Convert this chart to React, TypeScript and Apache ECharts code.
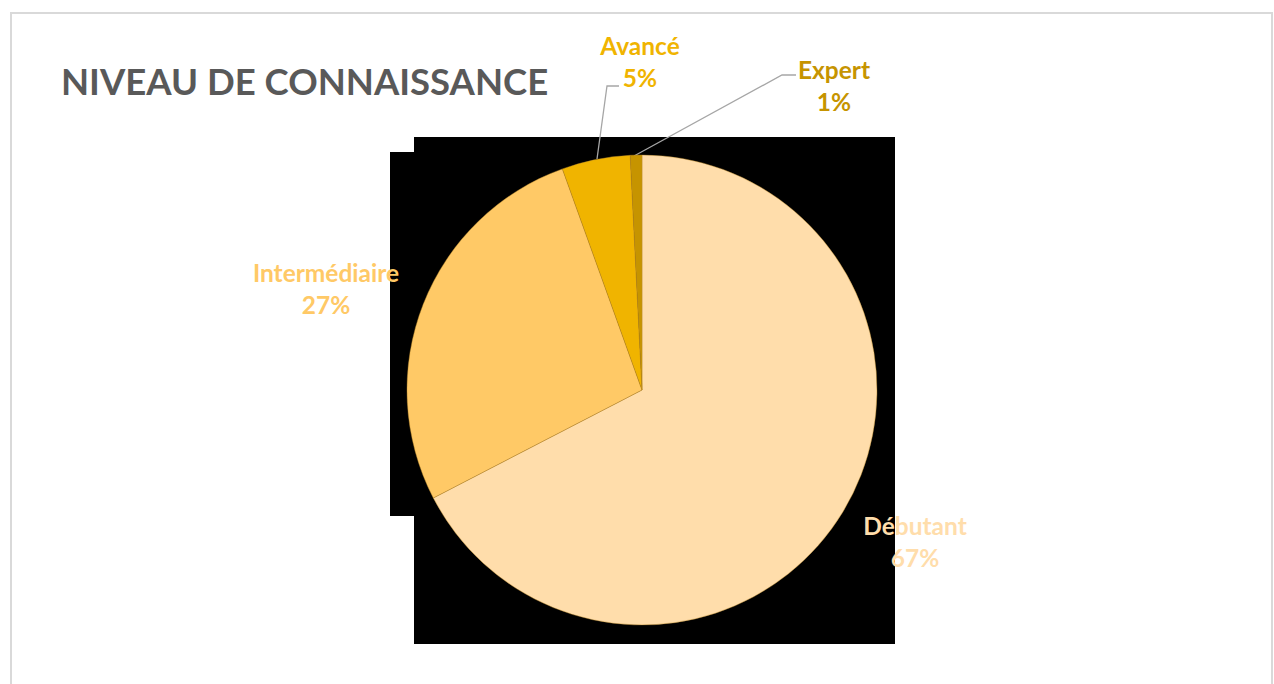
import React, { useEffect, useRef } from "react";
import * as echarts from "echarts";

const TITLE = "NIVEAU DE CONNAISSANCE";
const categories = ["Débutant", "Intermédiaire", "Avancé", "Expert"];
const values = [67.4, 27.1, 4.7, 0.8];
const colors = ["#FFDDAB", "#FFC966", "#F0B400", "#C69400"];
const showLine = [false, false, true, true];

// label layout (centre of the two-line label) and optional leader-line points
const labelPos: { x: number; y: number; line?: number[][] }[] = [
  { x: 915, y: 541 },
  { x: 326, y: 288 },
  { x: 640, y: 61, line: [[597, 159], [607, 86], [619, 86]] },
  { x: 834, y: 85, line: [[634, 156], [782, 75], [796, 75]] },
];

export default function App() {
  const ref = useRef<HTMLDivElement>(null);
  useEffect(() => {
    if (!ref.current) return;
    const chart = echarts.init(ref.current, undefined, { renderer: "svg" });
    const fontFamily = "Lato, 'Open Sans', sans-serif";
    chart.setOption({
      animation: false,
      backgroundColor: "#ffffff",
      title: {
        text: TITLE,
        left: 61,
        top: 60,
        padding: 0,
        textStyle: {
          color: "#595959",
          fontSize: 36.5,
          fontWeight: "bold",
          fontFamily,
          lineHeight: 42,
        },
      },
      graphic: [
        {
          type: "rect",
          z: -10,
          shape: { x: 11, y: 13, width: 1261, height: 720 },
          style: { fill: "none", stroke: "#D9D9D9", lineWidth: 2 },
        },
        {
          type: "rect",
          z: -5,
          shape: { x: 414, y: 137, width: 481, height: 507 },
          style: { fill: "#000000" },
        },
        {
          type: "rect",
          z: -5,
          shape: { x: 390, y: 152, width: 25, height: 364 },
          style: { fill: "#000000" },
        },
      ],
      series: [
        {
          type: "pie",
          center: [642, 390],
          radius: 235,
          startAngle: 90,
          clockwise: true,
          percentPrecision: 0,
          avoidLabelOverlap: false,
          itemStyle: { borderColor: "rgba(190,140,40,0.7)", borderWidth: 0.6 },
          label: {
            show: true,
            position: "outside",
            formatter: "{b}\n{d}%",
            fontSize: 24.5,
            fontWeight: "bold",
            fontFamily,
            lineHeight: 32,
            align: "center",
          },
          labelLine: {
            show: true,
            lineStyle: { color: "#A6A6A6", width: 1.3 },
          },
          labelLayout: (params: any) => {
            const p = labelPos[params.dataIndex];
            const out: any = {
              x: p.x,
              y: p.y,
              align: "center",
              verticalAlign: "middle",
            };
            if (p.line) out.labelLinePoints = p.line;
            return out;
          },
          data: categories.map((name, i) => ({
            name,
            value: values[i],
            itemStyle: { color: colors[i] },
            label: { color: colors[i] },
            labelLine: { show: showLine[i] },
          })),
        },
      ],
    });
    return () => chart.dispose();
  }, []);
  return (
    <div
      ref={ref}
      style={{ position: "absolute", left: 0, top: 0, width: 1274, height: 684 }}
    />
  );
}
